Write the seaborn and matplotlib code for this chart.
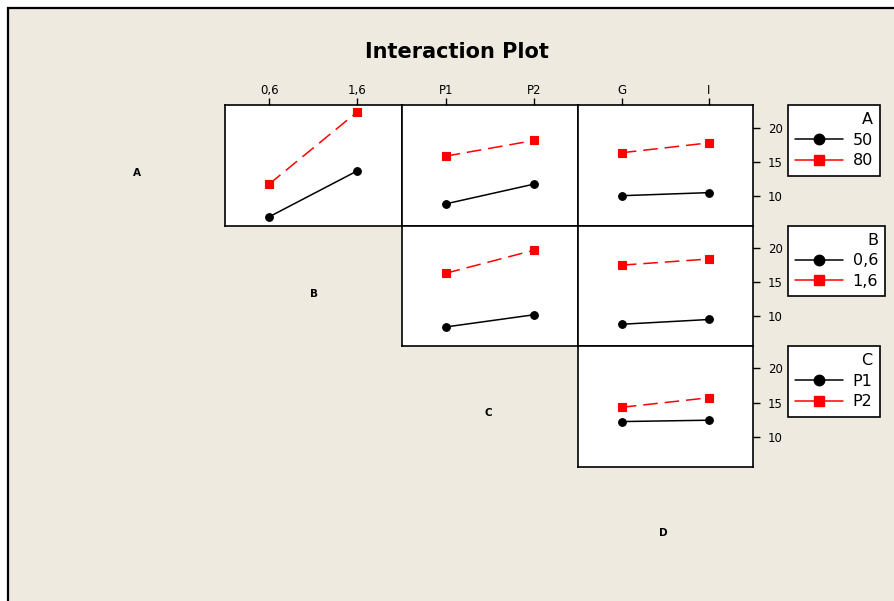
import matplotlib
matplotlib.use("Agg")

import matplotlib.pyplot as plt
import pandas as pd
import seaborn as sns
from matplotlib.lines import Line2D
from matplotlib.patches import Rectangle

# factor levels
A_LEVELS = ["50", "80"]
B_LEVELS = ["0,6", "1,6"]
C_LEVELS = ["P1", "P2"]
D_LEVELS = ["G", "I"]

# means, one list per hue level (x = column factor)
ab_a50 = [6.9, 13.65]
ab_a80 = [11.7, 22.3]
ac_a50 = [8.8, 11.7]
ac_a80 = [15.8, 18.1]
ad_a50 = [10.0, 10.45]
ad_a80 = [16.3, 17.75]
bc_b06 = [8.4, 10.2]
bc_b16 = [16.3, 19.7]
bd_b06 = [8.8, 9.5]
bd_b16 = [17.5, 18.4]
cd_cp1 = [12.2, 12.4]
cd_cp2 = [14.3, 15.7]

Y_TICKS = [10, 15, 20]
FACTORS = ["A", "B", "C", "D"]

W, H = 894, 601
COL_X = [49, 225, 401.5, 578.3, 752.5]
ROW_Y = [105, 225.7, 346, 466.5, 587]
BG = "#EEEAE0"
COLORS = ["black", "red"]


def panel_frame(x_levels, hue_levels, low, high):
    return pd.DataFrame({
        "x": x_levels * 2,
        "hue": [hue_levels[0]] * 2 + [hue_levels[1]] * 2,
        "y": low + high,
    })


PANELS = {
    (0, 1): (B_LEVELS, panel_frame(B_LEVELS, A_LEVELS, ab_a50, ab_a80)),
    (0, 2): (C_LEVELS, panel_frame(C_LEVELS, A_LEVELS, ac_a50, ac_a80)),
    (0, 3): (D_LEVELS, panel_frame(D_LEVELS, A_LEVELS, ad_a50, ad_a80)),
    (1, 2): (C_LEVELS, panel_frame(C_LEVELS, B_LEVELS, bc_b06, bc_b16)),
    (1, 3): (D_LEVELS, panel_frame(D_LEVELS, B_LEVELS, bd_b06, bd_b16)),
    (2, 3): (D_LEVELS, panel_frame(D_LEVELS, C_LEVELS, cd_cp1, cd_cp2)),
}
HUE_LEVELS = [A_LEVELS, B_LEVELS, C_LEVELS]


def px_rect(x0, y0, x1, y1):
    return [x0 / W, 1 - y1 / H, (x1 - x0) / W, (y1 - y0) / H]


def main() -> None:
    sns.set_theme(style="white")
    plt.rcParams["font.family"] = ["DejaVu Sans"]
    plt.rcParams["text.color"] = "black"
    plt.rcParams["lines.scale_dashes"] = False

    fig = plt.figure(figsize=(W / 100, H / 100), dpi=100)
    fig.patch.set_facecolor("white")
    fig.patches.append(Rectangle((8 / W, -0.1), 1.2, 1 - 8 / H + 0.1,
                                 transform=fig.transFigure, facecolor=BG,
                                 edgecolor="black", linewidth=1.6, zorder=-5))

    fig.text(456.5 / W, 1 - 52 / H, "Interaction Plot", ha="center", va="center",
             fontsize=15, fontweight="bold", color="black")

    for (r, c), (order, df) in PANELS.items():
        ax = fig.add_axes(px_rect(COL_X[c], ROW_Y[r], COL_X[c + 1], ROW_Y[r + 1]))
        sns.pointplot(data=df, x="x", y="y", hue="hue",
                      order=order, hue_order=HUE_LEVELS[r],
                      palette=COLORS, markers=["o", "s"], linestyles=["-", "--"],
                      errorbar=None, markersize=5.5, linewidth=1.1,
                      legend=False, ax=ax)
        for line in ax.lines:
            if line.get_linestyle() == "--":
                line.set_dashes([10.5, 5])
        ax.set_facecolor("white")
        ax.set_xlim(-0.5, 1.5)
        ax.set_ylim(5.6, 23.3)
        ax.set_xlabel("")
        ax.set_ylabel("")
        for sp in ax.spines.values():
            sp.set_color("black")
            sp.set_linewidth(1.2)
        if r == 0:
            ax.xaxis.tick_top()
            ax.tick_params(axis="x", top=True, bottom=False, length=5, width=1,
                           direction="out", labelsize=8.5, pad=1, colors="black")
        else:
            ax.set_xticks([])
        if c == 3:
            ax.yaxis.tick_right()
            ax.set_yticks(Y_TICKS)
            ax.tick_params(axis="y", right=True, left=False, length=5, width=1,
                           direction="out", labelsize=8.5, pad=6, colors="black")
        else:
            ax.set_yticks([])

    centers = [(137.3, 172.7), (314, 294), (488, 413), (663, 533)]
    for name, (x, y) in zip(FACTORS, centers):
        fig.text(x / W, 1 - y / H, name, ha="center", va="center",
                 fontsize=7.5, fontweight="bold", color="black")

    for r, levels in enumerate(HUE_LEVELS):
        handles = [
            Line2D([], [], color=COLORS[0], marker="o", markersize=7.5, linewidth=1.1),
            Line2D([], [], color=COLORS[1], marker="s", markersize=7.5, linewidth=1.1),
        ]
        leg = fig.legend(handles, levels, title=FACTORS[r], loc="upper left",
                         bbox_to_anchor=(788 / W, 1 - ROW_Y[r] / H),
                         bbox_transform=fig.transFigure, borderaxespad=0,
                         fontsize=11.5, title_fontsize=11.5, handlelength=3.0,
                         handletextpad=0.6, labelspacing=0.35, borderpad=0.45,
                         alignment="right", fancybox=False, framealpha=1,
                         labelcolor="black")
        leg.get_title().set_color("black")
        leg.get_frame().set_edgecolor("black")
        leg.get_frame().set_linewidth(1.2)
        leg.get_frame().set_facecolor("white")

    fig.savefig("out.png", dpi=100, facecolor=fig.get_facecolor())


if __name__ == "__main__":
    main()
